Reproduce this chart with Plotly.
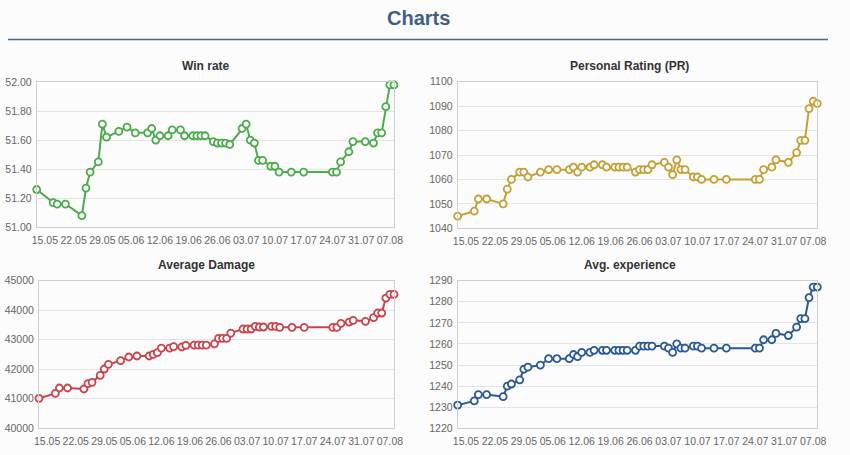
import datetime as _dt
import plotly.graph_objects as go

YEAR = "2014"
day_offsets = [0, 4, 5, 7, 11, 12, 13, 15, 16, 17, 20, 22, 24, 27, 28, 29, 30, 32, 33, 35,
               36, 38, 39, 40, 41, 43, 44, 45, 46, 47, 50, 51, 52, 53, 54, 55, 57, 58, 59, 62,
               65, 72, 73, 74, 76, 77, 80, 82, 83, 84, 85, 86, 87]
_start = _dt.date(int(YEAR), 5, 13)
dates = [(_start + _dt.timedelta(days=d)).isoformat() for d in day_offsets]

win_rate = [51.26, 51.17, 51.16, 51.16, 51.08, 51.27, 51.38, 51.45, 51.71, 51.62,
            51.66, 51.69, 51.65, 51.65, 51.68, 51.60, 51.63, 51.63, 51.67, 51.67,
            51.63, 51.63, 51.63, 51.63, 51.63, 51.59, 51.58, 51.58, 51.58, 51.57,
            51.68, 51.71, 51.60, 51.58, 51.46, 51.46, 51.42, 51.42, 51.38, 51.38,
            51.38, 51.38, 51.38, 51.45, 51.52, 51.59, 51.59, 51.58, 51.65, 51.65,
            51.83, 51.98, 51.98]
personal_rating = [1045, 1047, 1052, 1052, 1050, 1056, 1060, 1063, 1063, 1061,
                   1063, 1064, 1064, 1064, 1065, 1063, 1065, 1065, 1066, 1066,
                   1065, 1065, 1065, 1065, 1065, 1063, 1064, 1064, 1064, 1066,
                   1067, 1065, 1062, 1068, 1064, 1064, 1061, 1061, 1060, 1060,
                   1060, 1060, 1060, 1064, 1065, 1068, 1067, 1071, 1076, 1076,
                   1089, 1092, 1091]
avg_damage = [41015, 41184, 41365, 41365, 41331, 41512, 41557, 41794, 42008, 42166,
              42290, 42415, 42449, 42449, 42505, 42561, 42719, 42719, 42765, 42754,
              42810, 42815, 42815, 42820, 42820, 42860, 43047, 43047, 43047, 43227,
              43363, 43363, 43363, 43453, 43431, 43431, 43453, 43453, 43419, 43419,
              43419, 43419, 43419, 43555, 43600, 43657, 43623, 43747, 43905, 43905,
              44413, 44537, 44537]
avg_experience = [1231, 1233, 1236, 1236, 1235, 1240, 1241, 1243, 1248, 1249,
                  1250, 1253, 1253, 1253, 1255, 1254, 1256, 1256, 1257, 1257,
                  1257, 1257, 1257, 1257, 1257, 1257, 1259, 1259, 1259, 1259,
                  1259, 1258, 1256, 1260, 1258, 1258, 1259, 1259, 1258, 1258,
                  1258, 1258, 1258, 1262, 1262, 1265, 1264, 1268, 1272, 1272,
                  1282, 1287, 1287]

titles = ["Win rate", "Personal Rating (PR)", "Average Damage", "Avg. experience"]
series = [win_rate, personal_rating, avg_damage, avg_experience]
colors = ["#4cab4c", "#c4a035", "#c9444c", "#2b5896"]
y_ranges = [(51.0, 52.0, 0.2, ".2f"), (1040, 1100, 10, "d"), (40000, 45000, 1000, "d"), (1220, 1290, 10, "d")]

W, H = 850, 455
# plot-area pixel boxes (left, right, top, bottom)
boxes = [(36.7, 394, 82, 227.3), (457.7, 817.3, 81.7, 228.3),
         (39, 394, 280.7, 428.3), (457.7, 817.3, 280.7, 428.3)]
title_pos = [(206, 66), (629.5, 66), (206, 265), (629.5, 265)]

FONT = "Liberation Sans, Arial, sans-serif"
fig = go.Figure()
layout = dict(width=W, height=H, margin=dict(l=0, r=0, t=0, b=0, pad=0),
              autosize=False,
              paper_bgcolor="#fcfcfc", plot_bgcolor="#fcfcfc", showlegend=False,
              font=dict(family=FONT, color="#666666", size=10))
annotations = []
for i in range(4):
    xa = "x" if i == 0 else f"x{i+1}"
    ya = "y" if i == 0 else f"y{i+1}"
    fig.add_trace(go.Scatter(
        x=dates, y=series[i], mode="lines+markers", xaxis=xa, yaxis=ya,
        line=dict(color=colors[i], width=2),
        marker=dict(symbol="circle", size=7, color="white",
                    line=dict(color=colors[i], width=1.8)),
        cliponaxis=False))
    l, r, t, b = boxes[i]
    lo, hi, dt, fmt = y_ranges[i]
    xkey = "xaxis" if i == 0 else f"xaxis{i+1}"
    ykey = "yaxis" if i == 0 else f"yaxis{i+1}"
    layout[xkey] = dict(domain=[l / W, r / W], anchor=ya, type="date",
                        range=[dates[0], dates[-1]], tick0=f"{YEAR}-05-15",
                        dtick=7 * 86400000, tickformat="%d.%m", showgrid=False,
                        showline=True, linecolor="#cfcfcf", linewidth=1, mirror=True,
                        ticks="", zeroline=False, tickangle=0, automargin=False,
                        ticklabelstandoff=3,
                        tickfont=dict(size=10.5, color="#666666"))
    layout[ykey] = dict(domain=[1 - b / H, 1 - t / H], anchor=xa, range=[lo, hi],
                        dtick=dt, tick0=lo, tickformat=fmt, showgrid=True,
                        gridcolor="#e4e4e4", gridwidth=1, showline=True,
                        linecolor="#cfcfcf", linewidth=1, mirror=True,
                        ticks="", zeroline=False, automargin=False,
                        ticklabelstandoff=2,
                        tickfont=dict(size=10.5, color="#666666"))
    tx, ty = title_pos[i]
    annotations.append(dict(text=f"<b>{titles[i]}</b>", x=tx / W, y=1 - ty / H,
                            xref="paper", yref="paper", showarrow=False,
                            xanchor="center", yanchor="middle",
                            font=dict(family=FONT, size=12, color="#333333")))

annotations.append(dict(text="<b>Charts</b>", x=418 / W, y=1 - 18 / H, xref="paper",
                        yref="paper", showarrow=False, xanchor="center", yanchor="middle",
                        font=dict(family=FONT, size=20, color="#3d6185")))
layout["annotations"] = annotations
layout["shapes"] = [dict(type="line", xref="paper", yref="paper", x0=8 / W, x1=828 / W,
                         y0=1 - 39.5 / H, y1=1 - 39.5 / H,
                         line=dict(color="#4d6a85", width=1.5))]
fig.update_layout(**layout)
fig.write_html("out.html")
